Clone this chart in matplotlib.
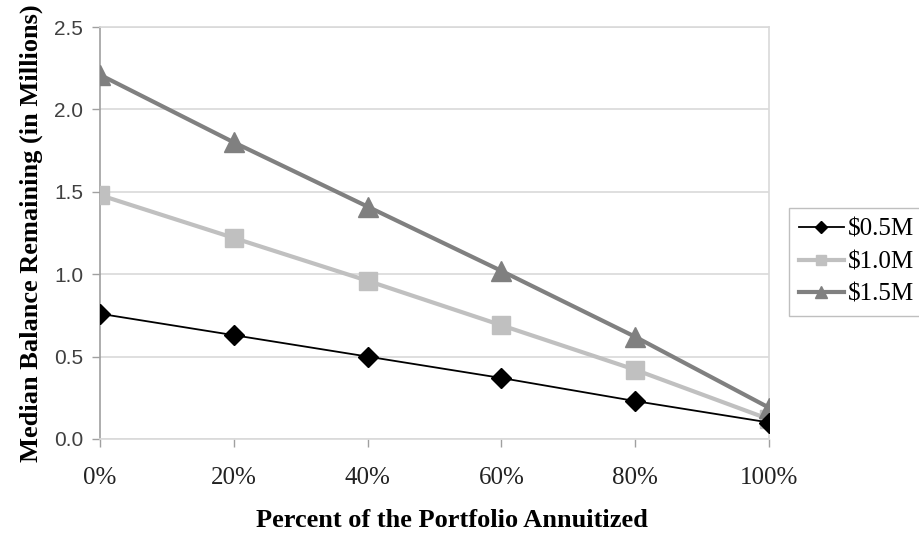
import matplotlib
matplotlib.use("Agg")
import matplotlib.pyplot as plt

categories = ["0%", "20%", "40%", "60%", "80%", "100%"]
s05 = [0.76, 0.63, 0.50, 0.37, 0.23, 0.10]
s10 = [1.48, 1.22, 0.96, 0.69, 0.42, 0.12]
s15 = [2.21, 1.80, 1.41, 1.02, 0.62, 0.19]
series_names = ["$0.5M", "$1.0M", "$1.5M"]
yticks = [0.0, 0.5, 1.0, 1.5, 2.0, 2.5]
ytick_labels = ["0.0", "0.5", "1.0", "1.5", "2.0", "2.5"]

serif = ["Liberation Serif", "DejaVu Serif"]
sans = ["Liberation Sans", "DejaVu Sans"]

fig = plt.figure(figsize=(9.2, 5.33), dpi=100)
ax = fig.add_axes([0.1087, 0.1764, 0.7272, 0.7729])

x = list(range(len(categories)))
l1, = ax.plot(x, s05, color="black", lw=1.3, marker="D", ms=10, mec="black", mfc="black", zorder=5)
l2, = ax.plot(x, s10, color="#c0c0c0", lw=3.0, marker="s", ms=13, mec="#c0c0c0", mfc="#c0c0c0", zorder=3)
l3, = ax.plot(x, s15, color="#808080", lw=3.0, marker="^", ms=14, mec="#808080", mfc="#808080", zorder=4)

ax.set_xlim(0, 5)
ax.set_ylim(0, 2.5)
ax.set_yticks(yticks)
ax.set_yticklabels(ytick_labels, family=sans, fontsize=15, color="#404040")
ax.set_xticks(x)
ax.set_xticklabels(categories, family=serif, fontsize=18, color="#222222")
ax.grid(axis="y", color="#d9d9d9", lw=1.2)
ax.set_axisbelow(True)

for side in ["top", "right", "bottom"]:
    ax.spines[side].set_color("#d9d9d9")
    ax.spines[side].set_linewidth(1.2)
ax.spines["left"].set_color("#a0a0a0")
ax.spines["left"].set_linewidth(1.2)
ax.tick_params(axis="both", color="#a0a0a0", length=6, width=1.0)
ax.tick_params(axis="x", pad=14)
ax.tick_params(axis="y", pad=6)

ax.set_xlabel("Percent of the Portfolio Annuitized", family=serif, fontsize=19, fontweight="bold")
ax.xaxis.set_label_coords(0.526, -0.170)
ax.set_ylabel("Median Balance Remaining (in Millions)", family=serif, fontsize=19, fontweight="bold", labelpad=8)

leg = fig.legend([l1, l2, l3], series_names, loc="center left", bbox_to_anchor=(0.8576, 0.508),
                 prop={"family": serif, "size": 18}, frameon=True, fancybox=False,
                 edgecolor="#b0b0b0", handlelength=1.8, handletextpad=0.15, borderpad=0.4,
                 labelspacing=0.4, markerscale=0.6, borderaxespad=0)
leg.get_frame().set_linewidth(1.0)

fig.savefig("out.png", dpi=100)
